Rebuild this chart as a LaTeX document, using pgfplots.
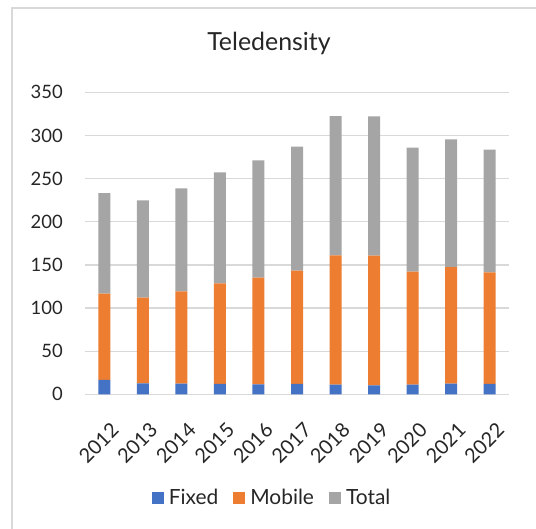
\documentclass[border=0pt]{standalone}
\usepackage{pgfplots}
\pgfplotsset{compat=1.18}
\usepackage{fontspec}
\setmainfont{Lato}

\definecolor{cfixed}{HTML}{4472C4}
\definecolor{cmobile}{HTML}{ED7D31}
\definecolor{ctotal}{HTML}{A5A5A5}
\definecolor{cgrid}{HTML}{D9D9D9}
\definecolor{ctext}{HTML}{262626}

\begin{document}
\begin{tikzpicture}[x=1bp,y=1bp]
\clip (0,0) rectangle (536,-529);
% chart frame (right and bottom edges fall outside the picture)
\draw[cgrid, line width=1.3bp] (12,-540) -- (12,-8) -- (545,-8);
\node[text=ctext, font=\fontsize{25}{28}\selectfont] at (269,-43) {Teledensity};
\begin{axis}[
    at={(85bp,-394.3bp)}, anchor=south west,
    scale only axis, width=424bp, height=302bp,
    ybar stacked, bar width=12bp,
    xmin=-0.5, xmax=10.5, ymin=0, ymax=350,
    xtick={0,...,10},
    xticklabels={2012,2013,2014,2015,2016,2017,2018,2019,2020,2021,2022},
    ytick={0,50,...,350},
    ymajorgrids, grid style={cgrid, line width=1.3bp},
    axis line style={draw=none}, major tick length=0pt,
    tick label style={text=ctext, font=\fontsize{18.5}{20}\selectfont,
        /pgf/number format/assume math mode=true},
    yticklabel style={anchor=east, inner sep=0pt, xshift=-22bp},
    xticklabel style={rotate=45, anchor=north east, inner sep=0pt,
        font=\fontsize{20}{22}\selectfont, xshift=-15bp, yshift=-23bp},
    legend columns=3,
    legend style={at={(0.44,-0.343)}, anchor=center, draw=none, fill=none,
        text=ctext, font=\fontsize{21}{23}\selectfont,
        /tikz/every even column/.append style={column sep=14bp},
        /tikz/every odd column/.append style={column sep=4bp},
        nodes={inner sep=1bp}},
    legend image code/.code={\fill[#1] (0bp,-6bp) rectangle (12bp,6bp);},
]
\addplot[fill=cfixed, draw=none] coordinates {
    (0,16.6) (1,12.7) (2,12.3) (3,12.0) (4,11.6) (5,12.0)
    (6,11.2) (7,10.4) (8,11.2) (9,12.4) (10,12.0)};
\addplot[fill=cmobile, draw=none] coordinates {
    (0,100.0) (1,99.3) (2,107.1) (3,116.6) (4,123.5) (5,131.2)
    (6,149.8) (7,150.2) (8,130.9) (9,135.1) (10,129.4)};
\addplot[fill=ctotal, draw=none] coordinates {
    (0,116.7) (1,112.8) (2,119.3) (3,128.7) (4,136.1) (5,143.8)
    (6,161.5) (7,161.5) (8,143.7) (9,148.0) (10,142.1)};
\legend{Fixed,Mobile,Total}
\end{axis}
\end{tikzpicture}
\end{document}
